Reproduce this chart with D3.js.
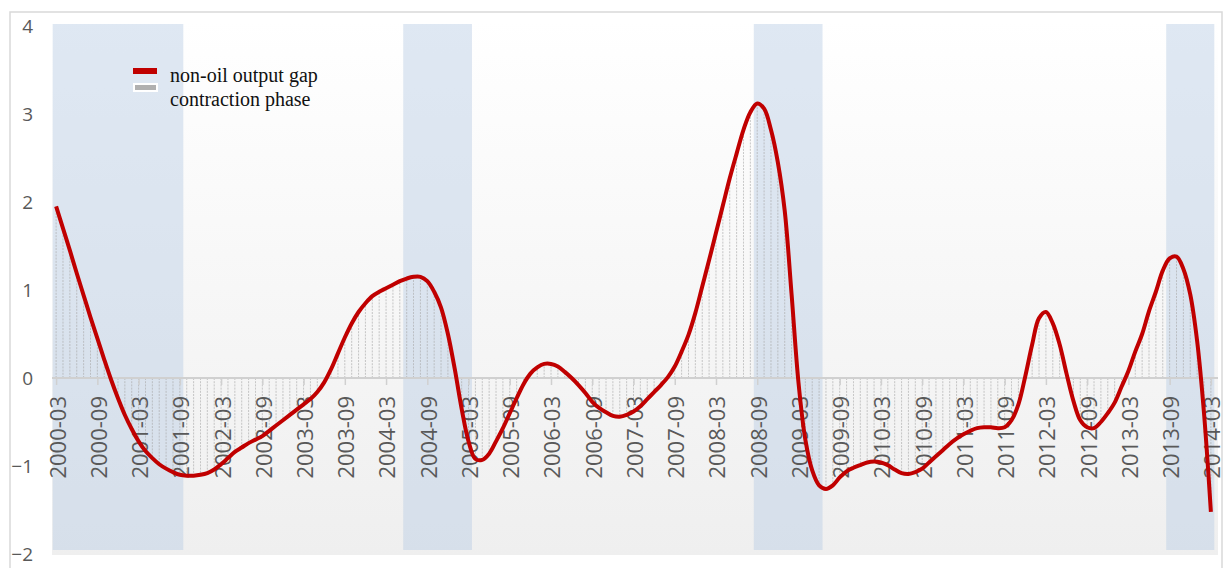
<!DOCTYPE html>
<html>
<head>
<meta charset="utf-8">
<style>
    body { margin: 0; background: #fff; }
    svg { display: block; }
    .y .domain, .x .domain { display: none; }
    .y .tick text { font-family: 'Open Sans', sans-serif; font-size: 19px; fill: #595959; }
    .x .tick text { font-family: 'Open Sans', sans-serif; font-size: 22px; fill: #595959; }
    .x .tick line { stroke: #d0d0d0; stroke-width: 1.5px; }
    .legend text { font-family: 'Liberation Serif', 'Times New Roman', serif; font-size: 20px; fill: #111; }
</style>
</head>
<body>
<svg width="1226" height="568"></svg>
<script src="https://d3js.org/d3.v7.min.js"></script>
<script>
    // monthly non-oil output gap, 2000-03 .. 2014-03
    let gap2000_2004 = [1.95, 1.70, 1.45, 1.19, 0.94, 0.69, 0.45, 0.21, -0.02, -0.23,
        -0.42, -0.58, -0.72, -0.83, -0.91, -0.98, -1.03, -1.07, -1.10, -1.11,
        -1.11, -1.10, -1.08, -1.04, -0.98, -0.91, -0.84, -0.79, -0.74, -0.70,
        -0.66, -0.60, -0.54, -0.48, -0.42, -0.36, -0.30, -0.24, -0.16, -0.05,
        0.10, 0.28, 0.46, 0.62, 0.75, 0.85, 0.93, 0.98, 1.02, 1.06]
    let gap2004_2008 = [1.10, 1.13, 1.15, 1.15, 1.10, 0.98, 0.80, 0.50, 0.10, -0.35,
        -0.72, -0.92, -0.93, -0.86, -0.72, -0.57, -0.40, -0.23, -0.07, 0.05,
        0.12, 0.16, 0.16, 0.13, 0.07, 0.00, -0.08, -0.17, -0.27, -0.34,
        -0.39, -0.43, -0.44, -0.42, -0.38, -0.32, -0.24, -0.16, -0.08, 0.01,
        0.13, 0.30, 0.49, 0.74, 1.04, 1.34, 1.65, 1.96, 2.27, 2.55]
    let gap2008_2012 = [2.82, 3.02, 3.12, 3.06, 2.82, 2.45, 1.90, 0.95, -0.05, -0.70,
        -1.05, -1.22, -1.26, -1.22, -1.13, -1.06, -1.02, -0.99, -0.96, -0.95,
        -0.96, -0.99, -1.04, -1.08, -1.09, -1.07, -1.03, -0.96, -0.89, -0.82,
        -0.75, -0.69, -0.64, -0.60, -0.57, -0.56, -0.56, -0.57, -0.56, -0.48,
        -0.30, 0.02, 0.38, 0.68, 0.75, 0.62, 0.38, 0.05, -0.26, -0.48]
    let gap2012_2014 = [-0.56, -0.57, -0.50, -0.40, -0.28, -0.10, 0.08, 0.30, 0.50, 0.76,
        0.98, 1.22, 1.36, 1.38, 1.24, 0.95, 0.42, -0.40, -1.52]

    let values = gap2000_2004.concat(gap2004_2008, gap2008_2012, gap2012_2014)

    let tickLabels = ["2000-03", "2000-09", "2001-03", "2001-09", "2002-03", "2002-09",
        "2003-03", "2003-09", "2004-03", "2004-09", "2005-03", "2005-09", "2006-03",
        "2006-09", "2007-03", "2007-09", "2008-03", "2008-09", "2009-03", "2009-09",
        "2010-03", "2010-09", "2011-03", "2011-09", "2012-03", "2012-09", "2013-03",
        "2013-09", "2014-03"]

    // contraction phases, first and last month
    let contractions = [["2000-03", "2001-09"], ["2004-06", "2005-03"],
        ["2008-09", "2009-06"], ["2013-09", "2014-03"]]

    let yTicks = [-2, -1, 0, 1, 2, 3, 4]

    let fmt = d3.timeFormat("%Y-%m")
    let months = d3.timeMonth.range(new Date(2000, 2, 1), new Date(2014, 3, 1)).map(fmt)
    let data = months.map((m, i) => ({ month: m, value: values[i] }))

    let svg = d3.select("svg")

    let x = d3.scalePoint()
        .domain(months)
        .range([52, 1215])
        .padding(0.6)
    let step = x.step()

    let y = d3.scaleLinear()
        .domain([-2, 4])
        .range([554, 26])

    // outer frame
    svg.append("rect")
        .attr("x", 10).attr("y", 12)
        .attr("width", 1212).attr("height", 570)
        .style("fill", "none")
        .style("stroke", "#d9d9d9")
        .style("stroke-width", 1.5)

    let defs = svg.append("defs")
    let grad = defs.append("linearGradient")
        .attr("id", "bg").attr("x1", 0).attr("y1", 0).attr("x2", 0).attr("y2", 1)
    grad.append("stop").attr("offset", "0%").attr("stop-color", "#ffffff")
    grad.append("stop").attr("offset", "100%").attr("stop-color", "#efefef")

    svg.append("rect")
        .attr("x", x.range()[0])
        .attr("y", y(4) - 6)
        .attr("width", x.range()[1] - x.range()[0] + 3)
        .attr("height", y(-2) - y(4) + 7)
        .style("fill", "url(#bg)")

    // contraction bands
    svg.append("g")
        .selectAll("rect")
        .data(contractions)
        .join("rect")
        .attr("x", d => x(d[0]) - step / 2)
        .attr("width", d => x(d[1]) - x(d[0]) + step)
        .attr("y", y(4) - 2)
        .attr("height", y(-2) - y(4) - 2)
        .style("fill", "#b8cce4")
        .style("opacity", 0.45)

    // drop lines to zero
    svg.append("g")
        .selectAll("line")
        .data(data)
        .join("line")
        .attr("x1", d => x(d.month))
        .attr("x2", d => x(d.month))
        .attr("y1", y(0))
        .attr("y2", d => y(d.value))
        .style("stroke", "#a9a9a9")
        .style("stroke-width", 0.9)
        .style("stroke-dasharray", "2,1.2")
        .style("opacity", 0.7)

    // zero axis
    svg.append("line")
        .attr("x1", x.range()[0])
        .attr("x2", x.range()[1] + 3)
        .attr("y1", y(0))
        .attr("y2", y(0))
        .style("stroke", "#d0d0d0")
        .style("stroke-width", 2)

    let xAxis = svg.append("g")
        .attr("class", "x axis")
        .attr("transform", `translate(0,${y(0)})`)
        .call(d3.axisBottom(x).tickValues(tickLabels).tickSize(7).tickPadding(0))

    xAxis.selectAll(".tick text")
        .attr("transform", "rotate(-90)")
        .attr("text-anchor", "end")
        .attr("x", -18)
        .attr("y", 1)
        .attr("dy", "0.36em")

    svg.append("g")
        .attr("class", "y axis")
        .attr("transform", "translate(36,0)")
        .call(d3.axisLeft(y).tickValues(yTicks).tickFormat(d3.format("d")).tickSize(0).tickPadding(3))

    let line = d3.line()
        .x(d => x(d.month))
        .y(d => y(d.value))
        .curve(d3.curveCatmullRom)

    svg.append("path")
        .datum(data)
        .attr("d", line)
        .style("fill", "none")
        .style("stroke", "#c00000")
        .style("stroke-width", 4)
        .style("stroke-linejoin", "round")

    // legend
    let legend = svg.append("g").attr("class", "legend")
    legend.append("rect")
        .attr("x", 133).attr("y", 68).attr("width", 24).attr("height", 6)
        .style("fill", "#c00000")
    legend.append("rect")
        .attr("x", 133).attr("y", 83).attr("width", 25).attr("height", 9)
        .style("fill", "#ffffff")
    legend.append("rect")
        .attr("x", 135).attr("y", 85).attr("width", 21).attr("height", 5)
        .style("fill", "#b0b0b0")
    legend.append("text").attr("x", 170).attr("y", 82).text("non-oil output gap")
    legend.append("text").attr("x", 170).attr("y", 106).text("contraction phase")
</script>
</body>
</html>
